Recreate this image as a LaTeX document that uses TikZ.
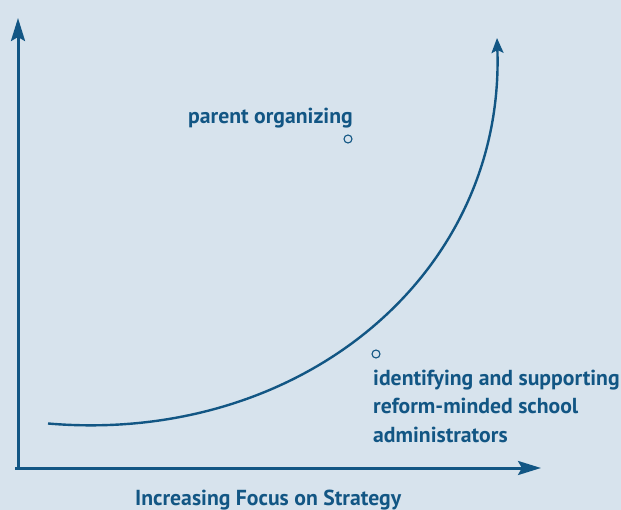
\documentclass[tikz,border=0pt]{standalone}
\usepackage{fontspec}
\setmainfont{PT Sans}
\usetikzlibrary{arrows.meta}
\definecolor{bgblue}{RGB}{215,227,237}
\definecolor{inkblue}{RGB}{18,86,132}
\tikzset{
  axis/.style={draw=inkblue,line width=3pt},
  mark dot/.style={draw=inkblue,circle,line width=1.1pt,inner sep=0pt,minimum size=8pt},
  lbl/.style={text=inkblue,font=\bfseries\fontsize{21.7}{28.5}\selectfont,inner sep=0pt,align=left}
}
\begin{document}
\begin{tikzpicture}[x=1pt,y=-1pt]
\fill [bgblue] (0,0) rectangle (621,510);
\useasboundingbox (0,0) rectangle (621,510);

\coordinate (O) at (18,468);
\coordinate (Y) at (18,18);
\coordinate (X) at (541,468);
\draw [axis,-{Stealth[length=23pt,width=14pt,inset=4pt]}] (O) -- (Y);
\draw [axis,-{Stealth[length=23pt,width=14pt,inset=4pt]}] (15,468) -- (X);

% growth curve
\coordinate (S) at (48,423.5);
\coordinate (E) at (497,38);
\draw [inkblue,line width=2.4pt,-{Stealth[length=15pt,width=12pt,inset=3pt]}]
  (S) .. controls (300,445) and (505,275) .. (E);

\node [mark dot] (P) at (348,139) {};
\node [lbl,anchor=base west] (Ptext) at (188,123.5) {parent organizing};

\node [mark dot] (A) at (376,354) {};
\node [lbl,anchor=base west] (Atext) at (373,442)
  {identifying and supporting\\reform-minded school\\administrators};

\node [lbl,anchor=base west] (xlabel) at (135,505) {Increasing Focus on Strategy};
\end{tikzpicture}
\end{document}
